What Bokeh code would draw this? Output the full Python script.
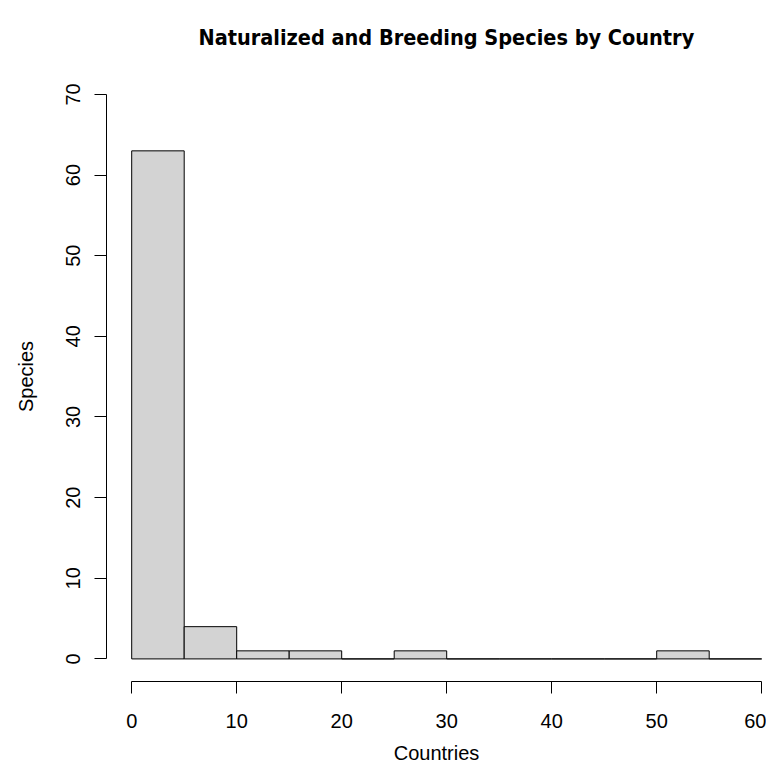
from bokeh.plotting import figure
from bokeh.models import FixedTicker, Range1d, ColumnDataSource
from bokeh.embed import file_html
from bokeh.resources import INLINE

# Histogram data (bin edges in countries, counts of species)
bin_left = [0, 5, 10, 15, 20, 25, 30, 35, 40, 45, 50, 55]
bin_right = [5, 10, 15, 20, 25, 30, 35, 40, 45, 50, 55, 60]
counts = [63, 4, 1, 1, 0, 1, 0, 0, 0, 0, 1, 0]

x_ticks = [0, 10, 20, 30, 40, 50, 60]
y_ticks = [0, 10, 20, 30, 40, 50, 60, 70]

title_text = "Naturalized and Breeding Species by Country"
x_label = "Countries"
y_label = "Species"

src = ColumnDataSource(dict(left=bin_left, right=bin_right, top=counts,
                            bottom=[0] * len(counts)))

p = figure(width=766, height=766, output_backend="svg", toolbar_location=None,
           x_range=Range1d(-2.4, 60.457), y_range=Range1d(-2.8, 72.84),
           min_border_left=106, min_border_right=0, min_border_top=71,
           min_border_bottom=85, title=title_text)

p.quad(left="left", right="right", top="top", bottom="bottom", source=src,
       fill_color="#D3D3D3", line_color="black", line_width=1)

p.grid.visible = False
p.outline_line_color = None
p.background_fill_color = "white"
p.border_fill_color = "white"

p.title.align = "left"
p.title.offset = 92
p.title.standoff = 43
p.title.text_font = "DejaVu Sans Condensed"
p.title.text_font_style = "bold"
p.title.text_font_size = "21.5px"
p.title.text_color = "black"

font = "Liberation Sans"
for ax, ticks, bounds in ((p.xaxis[0], x_ticks, (0, 60)), (p.yaxis[0], y_ticks, (0, 70))):
    ax.ticker = FixedTicker(ticks=ticks)
    ax.bounds = bounds
    ax.minor_tick_line_color = None
    ax.major_tick_out = 12
    ax.major_tick_in = 0
    ax.axis_line_color = "black"
    ax.major_tick_line_color = "black"
    ax.major_label_text_font = font
    ax.major_label_text_font_size = "20px"
    ax.major_label_text_color = "black"
    ax.axis_label_text_font = font
    ax.axis_label_text_font_size = "20px"
    ax.axis_label_text_font_style = "normal"
    ax.axis_label_text_color = "black"

p.xaxis[0].major_label_standoff = 20
p.xaxis[0].axis_label_standoff = 11
p.yaxis[0].major_label_standoff = 14
p.yaxis[0].axis_label_standoff = 27
p.xaxis[0].axis_label = x_label
p.yaxis[0].axis_label = y_label
p.yaxis[0].major_label_orientation = "vertical"

open("out.html", "w").write(file_html(p, INLINE))
